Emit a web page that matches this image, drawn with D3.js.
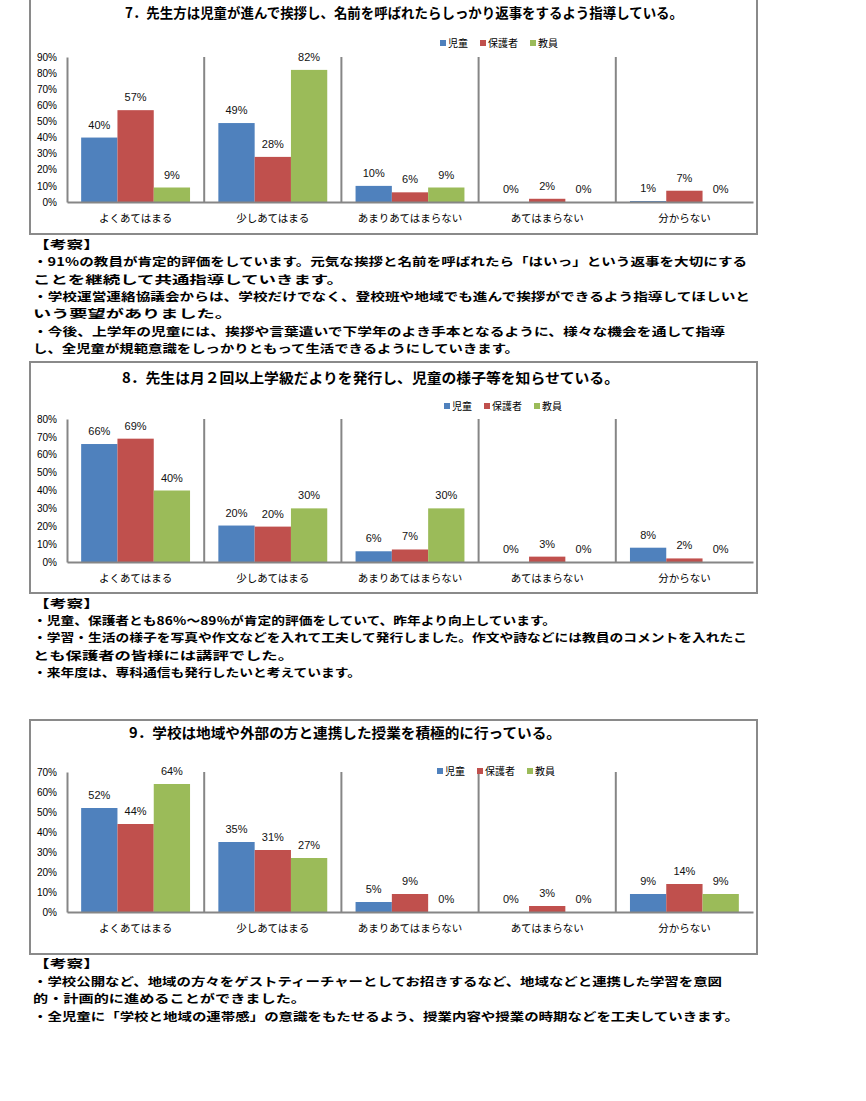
<!DOCTYPE html>
<html lang="ja">
<head>
<meta charset="utf-8">
<script src="https://cdn.jsdelivr.net/npm/d3@7"></script>
<style>
  html, body { margin: 0; padding: 0; background: #fff; }
  svg { display: block; }
</style>
</head>
<body>
<svg id="page" width="866" height="1101"></svg>
<script>
// ---------- DATA ----------
const categories = ["よくあてはまる", "少しあてはまる", "あまりあてはまらない", "あてはまらない", "分からない"];
const seriesNames = ["児童", "保護者", "教員"];

const q7Title = "7．先生方は児童が進んで挨拶し、名前を呼ばれたらしっかり返事をするよう指導している。";
const q7Children = [40, 49, 10, 0, 0.6];
const q7Parents = [57, 28, 6, 2, 7];
const q7Teachers = [9, 82, 9, 0, 0];
const q7Ticks = [0, 10, 20, 30, 40, 50, 60, 70, 80, 90];
const q7Notes = [
  "【考察】",
  "・91％の教員が肯定的評価をしています。元気な挨拶と名前を呼ばれたら「はいっ」という返事を大切にする",
  "ことを継続して共通指導していきます。",
  "・学校運営連絡協議会からは、学校だけでなく、登校班や地域でも進んで挨拶ができるよう指導してほしいと",
  "いう要望がありました。",
  "・今後、上学年の児童には、挨拶や言葉遣いで下学年のよき手本となるように、様々な機会を通して指導",
  "し、全児童が規範意識をしっかりともって生活できるようにしていきます。"
];

const q8Title = "8．先生は月２回以上学級だよりを発行し、児童の様子等を知らせている。";
const q8Children = [66, 20.4, 6, 0, 8];
const q8Parents = [69, 19.8, 7, 3, 2];
const q8Teachers = [40, 30, 30, 0, 0];
const q8Ticks = [0, 10, 20, 30, 40, 50, 60, 70, 80];
const q8Notes = [
  "【考察】",
  "・児童、保護者とも86％～89％が肯定的評価をしていて、昨年より向上しています。",
  "・学習・生活の様子を写真や作文などを入れて工夫して発行しました。作文や詩などには教員のコメントを入れたこ",
  "とも保護者の皆様には講評でした。",
  "・来年度は、専科通信も発行したいと考えています。"
];

const q9Title = "9．学校は地域や外部の方と連携した授業を積極的に行っている。";
const q9Children = [52, 35, 5, 0, 9];
const q9Parents = [44, 31, 9, 3, 14];
const q9Teachers = [64, 27, 0, 0, 9];
const q9Ticks = [0, 10, 20, 30, 40, 50, 60, 70];
const q9Notes = [
  "【考察】",
  "・学校公開など、地域の方々をゲストティーチャーとしてお招きするなど、地域などと連携した学習を意図",
  "的・計画的に進めることができました。",
  "・全児童に「学校と地域の連帯感」の意識をもたせるよう、授業内容や授業の時期などを工夫していきます。"
];

// ---------- STYLE / LAYOUT ----------
const colors = ["#4F81BD", "#C0504D", "#9BBB59"];
const axisColor = "#868686";
const jpFont = "'Noto Sans CJK JP', 'Noto Sans', sans-serif";
const numFont = "'Liberation Sans', Arial, sans-serif";

const charts = [
  { title: q7Title, series: [q7Children, q7Parents, q7Teachers], ticks: q7Ticks, notes: q7Notes,
    box: [30, -2, 757, 234], plot: { x0: 67, x1: 753, y0: 202, y1: 57 },
    titlePos: { x: 125, y: 18, w: 558 }, legendPos: { x: 440, y: 43 },
    notesPos: { y0: 249, dy: 17.3, ends: [100, 747, 344, 750, 233, 725, 519] } },
  { title: q8Title, series: [q8Children, q8Parents, q8Teachers], ticks: q8Ticks, notes: q8Notes,
    box: [30, 362, 757, 593], plot: { x0: 67, x1: 753, y0: 562, y1: 419 },
    titlePos: { x: 122, y: 383, w: 497 }, legendPos: { x: 444, y: 406 },
    notesPos: { y0: 608, dy: 17.2, ends: [100, 556, 747, 294, 361] } },
  { title: q9Title, series: [q9Children, q9Parents, q9Teachers], ticks: q9Ticks, notes: q9Notes,
    box: [30, 720, 757, 954], plot: { x0: 67, x1: 753, y0: 912, y1: 772 },
    titlePos: { x: 129, y: 738, w: 432 }, legendPos: { x: 437, y: 771 },
    notesPos: { y0: 968, dy: 17.6, ends: [100, 722, 306, 739] } }
];

const svg = d3.select("#page");

charts.forEach(cfg => {
  const g = svg.append("g");
  const [bx0, by0, bx1, by1] = cfg.box;
  g.append("rect")
    .attr("x", bx0).attr("y", by0)
    .attr("width", bx1 - bx0).attr("height", by1 - by0)
    .attr("fill", "#fff").attr("stroke", "#8a8a8a").attr("stroke-width", 2);

  // title
  g.append("text")
    .attr("x", cfg.titlePos.x).attr("y", cfg.titlePos.y)
    .attr("textLength", cfg.titlePos.w).attr("lengthAdjust", "spacingAndGlyphs")
    .attr("font-family", jpFont).attr("font-weight", 700).attr("font-size", 14)
    .attr("fill", "#000")
    .text(cfg.title);

  const p = cfg.plot;
  const x0 = d3.scaleBand().domain(categories).range([p.x0, p.x1]).padding(0);
  const x1 = d3.scaleBand().domain(seriesNames).range([0, x0.bandwidth()])
    .paddingInner(0).paddingOuter(0.39);
  const maxTick = cfg.ticks[cfg.ticks.length - 1];
  const y = d3.scaleLinear().domain([0, maxTick]).range([p.y0, p.y1]);

  // bars
  const rows = categories.map((c, i) => ({ cat: c, vals: seriesNames.map((s, j) => ({ s, j, v: cfg.series[j][i] })) }));
  const grp = g.selectAll("g.cat").data(rows).join("g")
    .attr("class", "cat")
    .attr("transform", d => `translate(${x0(d.cat)},0)`);
  grp.selectAll("rect").data(d => d.vals).join("rect")
    .attr("x", d => x1(d.s))
    .attr("width", x1.bandwidth())
    .attr("y", d => y(d.v))
    .attr("height", d => p.y0 - y(d.v))
    .attr("fill", d => colors[d.j]);
  grp.selectAll("text").data(d => d.vals).join("text")
    .attr("x", d => x1(d.s) + x1.bandwidth() / 2)
    .attr("y", d => y(d.v) - 9)
    .attr("text-anchor", "middle")
    .attr("font-family", numFont).attr("font-size", 11).attr("fill", "#111")
    .text(d => Math.round(d.v) + "%");

  // y axis
  const yAxis = d3.axisLeft(y).tickValues(cfg.ticks).tickSize(0).tickPadding(10)
    .tickFormat(d => d + "%");
  const ya = g.append("g").attr("transform", `translate(${p.x0},0)`).call(yAxis);
  ya.select(".domain").attr("stroke", axisColor).attr("stroke-width", 2);
  ya.selectAll("text").attr("font-family", numFont).attr("font-size", 10).attr("fill", "#000");

  // category separators
  categories.slice(1).forEach(c => {
    g.append("line")
      .attr("x1", x0(c)).attr("x2", x0(c))
      .attr("y1", p.y1).attr("y2", p.y0)
      .attr("stroke", axisColor).attr("stroke-width", 2);
  });

  // x axis
  const xAxis = d3.axisBottom(x0).tickSize(0).tickPadding(13);
  const xa = g.append("g").attr("transform", `translate(0,${p.y0})`).call(xAxis);
  xa.select(".domain").attr("stroke", axisColor).attr("stroke-width", 2);
  xa.selectAll("text").attr("font-family", jpFont).attr("font-size", 10.5).attr("fill", "#000");

  // legend
  let lx = cfg.legendPos.x;
  seriesNames.forEach((s, j) => {
    g.append("rect").attr("x", lx).attr("y", cfg.legendPos.y - 3)
      .attr("width", 6).attr("height", 6).attr("fill", colors[j]);
    const t = g.append("text").attr("x", lx + 8).attr("y", cfg.legendPos.y + 4)
      .attr("font-family", jpFont).attr("font-size", 10).attr("fill", "#000").text(s);
    lx += 8 + t.node().getComputedTextLength() + 12;
  });

  // notes
  cfg.notes.forEach((line, i) => {
    const t = g.append("text")
      .attr("x", 33)
      .attr("y", cfg.notesPos.y0 + i * cfg.notesPos.dy)
      .attr("font-family", jpFont).attr("font-weight", 700).attr("font-size", 11.8)
      .attr("fill", "#000")
      .text(line);
    const w = cfg.notesPos.ends[i] - 33;
    t.attr("textLength", w).attr("lengthAdjust", "spacingAndGlyphs");
  });
});
</script>
</body>
</html>
